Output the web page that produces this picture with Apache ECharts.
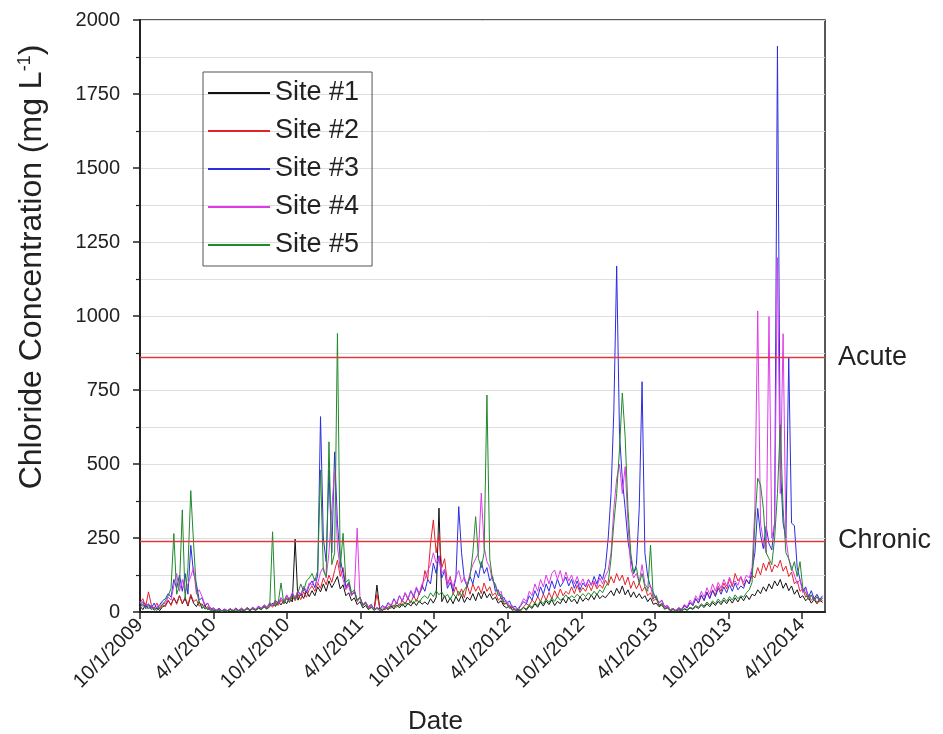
<!DOCTYPE html>
<html>
<head>
<meta charset="utf-8">
<script src="https://cdn.jsdelivr.net/npm/echarts@6/dist/echarts.min.js"></script>
<style>
html,body{margin:0;padding:0;background:#fff;}
#chart{width:943px;height:734px;}
</style>
</head>
<body>
<div id="chart"></div>
<script>
// Weekly sampling dates
const dates = [
'2009-10-01','2009-10-08','2009-10-15','2009-10-22','2009-10-29','2009-11-05','2009-11-12','2009-11-19','2009-11-26','2009-12-03','2009-12-10','2009-12-17','2009-12-24','2009-12-31',
'2010-01-07','2010-01-14','2010-01-21','2010-01-28','2010-02-04','2010-02-11','2010-02-18','2010-02-25','2010-03-04','2010-03-11','2010-03-18','2010-03-25','2010-04-01','2010-04-08','2010-04-15','2010-04-22','2010-04-29','2010-05-06','2010-05-13','2010-05-20','2010-05-27','2010-06-03','2010-06-10','2010-06-17','2010-06-24','2010-07-01','2010-07-08','2010-07-15','2010-07-22','2010-07-29','2010-08-05','2010-08-12','2010-08-19','2010-08-26','2010-09-02','2010-09-09','2010-09-16','2010-09-23','2010-09-30','2010-10-07','2010-10-14','2010-10-21','2010-10-28','2010-11-04','2010-11-11','2010-11-18','2010-11-25','2010-12-02','2010-12-09','2010-12-16','2010-12-23','2010-12-30',
'2011-01-06','2011-01-13','2011-01-20','2011-01-27','2011-02-03','2011-02-10','2011-02-17','2011-02-24','2011-03-03','2011-03-10','2011-03-17','2011-03-24','2011-03-31','2011-04-07','2011-04-14','2011-04-21','2011-04-28','2011-05-05','2011-05-12','2011-05-19','2011-05-26','2011-06-02','2011-06-09','2011-06-16','2011-06-23','2011-06-30','2011-07-07','2011-07-14','2011-07-21','2011-07-28','2011-08-04','2011-08-11','2011-08-18','2011-08-25','2011-09-01','2011-09-08','2011-09-15','2011-09-22','2011-09-29','2011-10-06','2011-10-13','2011-10-20','2011-10-27','2011-11-03','2011-11-10','2011-11-17','2011-11-24','2011-12-01','2011-12-08','2011-12-15','2011-12-22','2011-12-29',
'2012-01-05','2012-01-12','2012-01-19','2012-01-26','2012-02-02','2012-02-09','2012-02-16','2012-02-23','2012-03-01','2012-03-08','2012-03-15','2012-03-22','2012-03-29','2012-04-05','2012-04-12','2012-04-19','2012-04-26','2012-05-03','2012-05-10','2012-05-17','2012-05-24','2012-05-31','2012-06-07','2012-06-14','2012-06-21','2012-06-28','2012-07-05','2012-07-12','2012-07-19','2012-07-26','2012-08-02','2012-08-09','2012-08-16','2012-08-23','2012-08-30','2012-09-06','2012-09-13','2012-09-20','2012-09-27','2012-10-04','2012-10-11','2012-10-18','2012-10-25','2012-11-01','2012-11-08','2012-11-15','2012-11-22','2012-11-29','2012-12-06','2012-12-13','2012-12-20','2012-12-27',
'2013-01-03','2013-01-10','2013-01-17','2013-01-24','2013-01-31','2013-02-07','2013-02-14','2013-02-21','2013-02-28','2013-03-07','2013-03-14','2013-03-21','2013-03-28','2013-04-04','2013-04-11','2013-04-18','2013-04-25','2013-05-02','2013-05-09','2013-05-16','2013-05-23','2013-05-30','2013-06-06','2013-06-13','2013-06-20','2013-06-27','2013-07-04','2013-07-11','2013-07-18','2013-07-25','2013-08-01','2013-08-08','2013-08-15','2013-08-22','2013-08-29','2013-09-05','2013-09-12','2013-09-19','2013-09-26','2013-10-03','2013-10-10','2013-10-17','2013-10-24','2013-10-31','2013-11-07','2013-11-14','2013-11-21','2013-11-28','2013-12-05','2013-12-12','2013-12-19','2013-12-26',
'2014-01-02','2014-01-09','2014-01-16','2014-01-23','2014-01-30','2014-02-06','2014-02-13','2014-02-20','2014-02-27','2014-03-06','2014-03-13','2014-03-20','2014-03-27','2014-04-03','2014-04-10','2014-04-17','2014-04-24','2014-05-01','2014-05-08','2014-05-15','2014-05-22'
];

const site1 = [
20,8,25,10,22,6,14,5,18,
22,38,25,48,30,55,28,45,20,55,30,18,35,
12,22,8,14,5,
4,9,3,7,2,8,4,10,3,7,5,11,4,12,6,14,8,18,10,
18,30,20,36,24,40,28,48,34,246,40,62,46,70,52,
72,55,85,68,95,70,105,82,100,120,78,92,55,65,38,48,25,35,14,22,
8,16,6,91,10,5,14,8,20,10,24,14,28,16,30,20,35,22,38,26,
34,25,45,30,50,351,35,55,30,48,28,52,35,58,32,50,40,62,38,66,45,70,48,62,42,50,30,38,20,
14,22,6,10,3,8,15,6,20,12,28,16,34,20,38,25,42,22,36,28,46,30,50,34,44,28,52,36,48,40,58,42,62,45,55,48,
60,72,55,80,62,88,58,75,50,68,48,62,45,55,35,48,26,30,
18,24,10,14,5,9,3,8,4,10,6,14,9,18,12,24,15,28,18,32,22,36,
25,40,28,44,30,48,34,52,38,56,42,60,
55,75,62,85,70,95,78,105,88,110,80,98,72,88,60,75,48,55,38,48,30,42,28,40,32
];

const site2 = [
30,45,18,68,25,12,30,10,25,
18,40,22,48,26,55,30,50,24,60,35,42,20,
28,12,18,6,12,
5,12,4,10,3,11,5,14,4,9,6,16,7,13,8,18,10,22,14,
28,16,34,22,40,28,46,32,52,38,60,42,68,50,75,
88,70,98,80,115,92,125,100,140,175,120,150,80,95,55,68,35,48,22,30,
12,22,8,60,14,6,18,10,26,15,34,20,40,26,48,30,55,36,62,78,
140,110,230,311,200,260,150,180,95,120,60,85,55,78,48,90,60,95,70,88,62,98,70,85,55,65,40,48,25,
30,15,18,6,10,4,18,28,22,40,30,52,35,60,40,66,45,72,50,78,55,70,60,85,62,90,66,82,70,95,72,100,78,92,80,108,
90,120,98,130,105,125,92,118,80,105,78,98,70,85,55,65,38,45,
22,30,12,18,6,10,4,12,8,20,14,32,22,45,30,55,40,68,48,75,58,88,
70,98,78,112,85,130,105,119,90,108,95,125,
115,150,125,165,140,170,135,160,150,175,138,155,120,135,95,105,70,78,50,58,40,48,32,45,38
];

const site3 = [
25,35,15,28,12,30,10,25,38,
45,62,50,110,80,125,70,130,60,225,130,95,40,
48,20,30,8,14,
6,12,4,9,5,11,4,10,6,13,5,12,8,16,9,20,12,24,16,
30,22,40,28,48,34,56,40,62,46,72,55,82,64,90,
105,82,125,660,250,170,480,200,541,300,180,130,85,100,58,70,40,50,25,32,
18,26,8,15,10,22,14,32,20,45,28,55,36,65,42,72,50,80,58,90,
70,110,95,165,130,190,115,140,80,100,70,115,356,200,110,85,120,95,140,115,170,130,150,105,120,70,75,45,50,
28,38,15,20,6,22,35,28,55,40,72,50,85,60,95,70,105,78,112,85,100,118,88,110,80,105,75,98,85,110,90,120,95,128,110,150,
250,400,682,1169,600,450,350,240,180,130,160,350,778,200,120,85,65,45,
32,40,18,22,8,12,5,14,8,22,14,32,22,45,30,58,38,66,45,72,52,80,
60,85,65,92,70,98,75,88,80,110,95,140,
200,350,260,214,290,230,210,300,1912,500,300,250,858,300,292,150,110,70,85,50,72,45,60,42,55
];

const site4 = [
35,18,30,12,24,8,18,22,30,
28,50,40,90,130,70,110,65,95,120,150,60,75,
52,25,30,8,14,
5,10,3,8,4,11,5,9,4,12,6,10,7,15,9,18,12,24,16,
32,22,38,28,48,35,58,42,66,48,72,58,88,70,98,
90,115,95,135,150,115,200,350,480,220,145,110,75,90,55,68,283,45,25,35,
15,24,8,14,6,18,12,28,20,42,30,55,38,65,45,72,55,85,62,95,
110,140,160,200,165,185,130,145,90,115,85,120,140,100,118,90,130,160,180,200,402,220,170,150,105,95,60,70,35,
38,20,22,8,12,25,45,35,70,55,95,70,110,85,125,95,130,142,110,140,100,135,105,125,95,120,90,112,88,110,92,105,85,115,95,122,
140,200,350,450,500,400,491,300,150,115,130,100,160,95,80,90,45,55,
30,38,15,22,8,12,5,15,10,26,18,40,28,55,40,70,50,82,60,95,70,100,
80,110,88,118,92,105,90,120,100,125,115,150,
350,1017,300,240,200,998,250,300,1197,400,940,250,180,150,125,95,110,65,80,45,58,38,52,36,48
];

const site5 = [
15,28,10,22,8,14,5,18,24,
38,55,80,265,60,90,345,45,150,410,230,75,30,
24,10,14,4,8,
3,6,2,5,3,9,4,7,3,8,5,12,6,10,5,12,8,16,10,
22,271,18,32,98,28,48,34,58,42,65,95,70,105,115,
130,105,140,480,140,120,575,160,200,941,150,266,100,110,65,75,40,50,22,30,
10,16,5,12,4,10,8,18,12,24,16,28,20,34,24,38,28,42,32,48,
55,45,65,52,72,58,68,50,60,42,62,50,70,55,75,90,120,200,322,180,150,200,733,180,110,90,55,60,30,
28,12,15,4,8,5,15,10,24,16,32,22,38,28,44,32,48,36,52,40,46,58,44,55,48,60,50,62,52,65,55,70,58,75,65,85,
100,180,300,400,550,740,592,350,200,130,150,95,130,85,70,226,45,55,
22,28,10,14,4,8,3,7,4,12,8,16,12,22,16,28,20,34,24,38,28,44,
32,48,36,52,40,58,45,55,50,65,75,100,
300,452,430,350,200,180,160,250,400,632,350,200,180,140,170,120,170,80,65,42,58,38,52,35,48
];

const siteNames = ['Site #1','Site #2','Site #3','Site #4','Site #5'];
const siteValues = [site1, site2, site3, site4, site5];
const siteColors = ['#111111','#e4222a','#2c2ce0','#e03ae8','#1f8a2a'];

const tickDates = ['2009-10-01','2010-04-01','2010-10-01','2011-04-01','2011-10-01','2012-04-01','2012-10-01','2013-04-01','2013-10-01','2014-04-01'];
const xRange = ['2009-10-01','2014-05-28'];

const yTicks = [0,250,500,750,1000,1250,1500,1750,2000];

const thresholdNames = ['Acute','Chronic'];
const thresholdValues = [860, 240];

function toTs(s){ const p = s.split('-').map(Number); return Date.UTC(p[0], p[1]-1, p[2]); }
const tickTs = tickDates.map(toTs);

const FONT = '"Liberation Sans", Arial, sans-serif';

const series = siteNames.map((name, si) => {
  const s = {
    name: name,
    type: 'line',
    data: dates.map((d, i) => [toTs(d), siteValues[si][i]]),
    showSymbol: false,
    symbol: 'none',
    color: siteColors[si],
    lineStyle: { width: 1, color: siteColors[si] },
    clip: true,
    silent: true
  };
  if (si === 0) {
    s.markLine = {
      silent: true,
      symbol: 'none',
      animation: false,
      lineStyle: { color: '#e0383c', width: 1.4, type: 'solid' },
      label: { show: true, position: 'end', distance: 13, fontSize: 27, color: '#222', fontFamily: FONT, formatter: '{b}' },
      data: thresholdNames.map((n, i) => ({ name: n, yAxis: thresholdValues[i] }))
    };
  }
  return s;
});

const chart = echarts.init(document.getElementById('chart'), null, { renderer: 'canvas' });
chart.setOption({
  animation: false,
  backgroundColor: '#ffffff',
  textStyle: { fontFamily: FONT },
  grid: { left: 140, right: 118, top: 20, bottom: 122, containLabel: false, outerBoundsMode: 'none', show: true, borderColor: '#222', borderWidth: 1.5, backgroundColor: 'transparent' },
  legend: {
    orient: 'vertical', left: 203, top: 72,
    padding: [6, 13, 6, 5],
    itemWidth: 62, itemHeight: 2, itemGap: 8,
    icon: 'rect',
    borderColor: '#555', borderWidth: 1,
    textStyle: { fontSize: 27, color: '#222', lineHeight: 30, fontFamily: FONT },
    data: siteNames
  },
  xAxis: {
    type: 'value',
    min: toTs(xRange[0]), max: toTs(xRange[1]),
    axisLine: { show: true, lineStyle: { color: '#222', width: 2 } },
    axisTick: { show: true, customValues: tickTs, length: 7, lineStyle: { color: '#222', width: 1.5 } },
    axisLabel: {
      customValues: tickTs, rotate: 45, fontSize: 20, color: '#222', margin: 10, fontFamily: FONT,
      formatter: function (v) { const d = new Date(v); return (d.getUTCMonth() + 1) + '/' + d.getUTCDate() + '/' + d.getUTCFullYear(); }
    },
    splitLine: { show: false },
    name: 'Date', nameLocation: 'middle', nameGap: 97,
    nameTextStyle: { fontSize: 26, color: '#222', padding: [0, 94, 0, 0], fontFamily: FONT }
  },
  yAxis: {
    type: 'value', min: yTicks[0], max: yTicks[yTicks.length - 1], interval: yTicks[1] - yTicks[0],
    axisLine: { show: true, lineStyle: { color: '#222', width: 2 } },
    axisTick: { show: true, length: 7, lineStyle: { color: '#222', width: 1.5 } },
    minorTick: { show: true, splitNumber: 2, length: 4, lineStyle: { color: '#222', width: 1.2 } },
    splitLine: { show: true, lineStyle: { color: '#dedede', width: 1 } },
    minorSplitLine: { show: true, lineStyle: { color: '#dedede', width: 1 } },
    axisLabel: { fontSize: 20, color: '#222', margin: 20, fontFamily: FONT, formatter: function (v) { return String(v); } },
    name: '{a|Chloride Concentration (mg L}{s|-1}{a|)}',
    nameLocation: 'middle', nameGap: 92, nameRotate: 90,
    nameTextStyle: {
      padding: [0, 0, 0, 98],
      rich: {
        a: { fontSize: 32, color: '#222', fontFamily: FONT },
        s: { fontSize: 18, color: '#222', fontFamily: FONT, verticalAlign: 'top' }
      }
    }
  },
  series: series
});
</script>
</body>
</html>
